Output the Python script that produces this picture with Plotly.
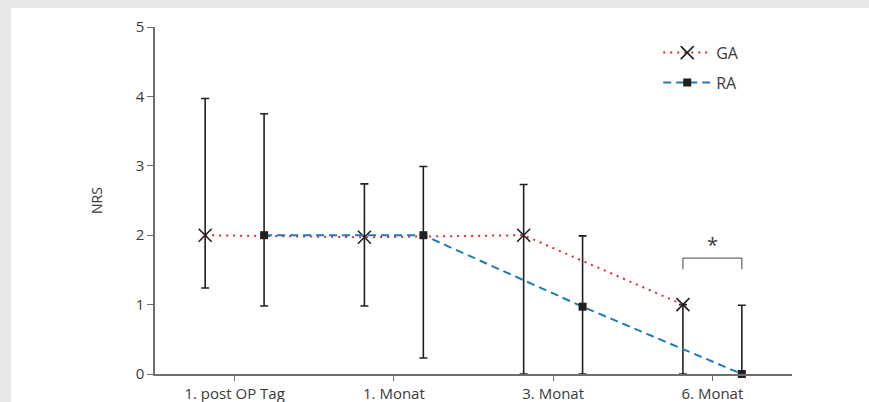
import plotly.graph_objects as go

categories = ["1. post OP Tag", "1. Monat", "3. Monat", "6. Monat"]
ga_values = [2.0, 1.97, 2.0, 1.0]
ga_upper = [3.97, 2.74, 2.73, 1.0]
ga_lower = [1.24, 0.98, 0.0, 0.0]
ra_values = [2.0, 2.0, 0.97, 0.0]
ra_upper = [3.75, 2.99, 1.99, 0.99]
ra_lower = [0.98, 0.23, 0.0, 0.0]
y_ticks = [0, 1, 2, 3, 4, 5]

offset = 0.185
idx = list(range(len(categories)))
ga_x = [i - offset for i in idx]
ra_x = [i + offset for i in idx]

FONT = "Open Sans"
AXIS_COLOR = "#6d6e70"
TEXT_COLOR = "#3a3a3a"

fig = go.Figure()

fig.add_trace(go.Scatter(
    x=ga_x, y=ga_values, name="GA", mode="lines+markers",
    line=dict(color="#e0262e", width=2, dash="2px,5px"),
    marker=dict(symbol="x-thin", size=13, color="#231f20",
                line=dict(color="#231f20", width=1.6)),
    error_y=dict(type="data", symmetric=False,
                 array=[u - v for u, v in zip(ga_upper, ga_values)],
                 arrayminus=[v - l for v, l in zip(ga_values, ga_lower)],
                 color="#231f20", thickness=1.6, width=4),
    legendgroup="ga", cliponaxis=False,
))

fig.add_trace(go.Scatter(
    x=ra_x, y=ra_values, name="RA", mode="lines+markers",
    line=dict(color="#1b7db3", width=2, dash="8px,5px"),
    marker=dict(symbol="square", size=8, color="#231f20"),
    error_y=dict(type="data", symmetric=False,
                 array=[u - v for u, v in zip(ra_upper, ra_values)],
                 arrayminus=[v - l for v, l in zip(ra_values, ra_lower)],
                 color="#231f20", thickness=1.6, width=4),
    legendgroup="ra", cliponaxis=False,
))

# significance bracket at last category
bx0, bx1 = ga_x[-1], ra_x[-1]
by_low, by_high = 1.51, 1.67
fig.add_shape(type="path",
              path=f"M {bx0} {by_low} L {bx0} {by_high} L {bx1} {by_high} L {bx1} {by_low}",
              xref="x", yref="y", line=dict(color="#6d6e70", width=1.3))
fig.add_annotation(x=(bx0 + bx1) / 2, y=1.86, text="*", showarrow=False,
                   font=dict(family=FONT, size=20, color=TEXT_COLOR))

# page frame: gray border with white panel
W, H = 869, 402
l, r, t, b = 155, 77, 27, 28
pw, ph = W - l - r, H - t - b
fig.add_shape(type="rect", xref="paper", yref="paper", layer="below",
              x0=(11 - l) / pw, x1=1.5, y0=-0.5, y1=(H - b - 8) / ph,
              fillcolor="white", line=dict(width=0))

fig.update_layout(
    width=W, height=H,
    margin=dict(l=l, r=r, t=t, b=b, autoexpand=False),
    paper_bgcolor="#e6e7e8",
    plot_bgcolor="rgba(0,0,0,0)",
    font=dict(family=FONT, size=15, color=TEXT_COLOR),
    showlegend=True,
    legend=dict(x=0.79, y=0.975, xanchor="left", yanchor="top",
                bgcolor="rgba(0,0,0,0)", font=dict(size=16, color=TEXT_COLOR),
                tracegroupgap=6, itemwidth=48),
    xaxis=dict(range=[-0.5, 3.5], tickvals=idx, ticktext=categories,
               showgrid=False, zeroline=False, showline=True, automargin=False,
               linecolor=AXIS_COLOR, linewidth=1.5,
               ticks="outside", ticklen=5, tickcolor=AXIS_COLOR, tickwidth=1.3,
               tickfont=dict(size=15, color=TEXT_COLOR)),
    yaxis=dict(range=[0, 5], tickvals=y_ticks, automargin=False,
               showgrid=False, zeroline=False, showline=True,
               linecolor=AXIS_COLOR, linewidth=1.5,
               ticks="outside", ticklen=6, tickcolor=AXIS_COLOR, tickwidth=1.3,
               tickfont=dict(size=15, color=TEXT_COLOR),
               title=dict(text="NRS", font=dict(size=14, color=TEXT_COLOR), standoff=30)),
)

fig.write_html("out.html")
